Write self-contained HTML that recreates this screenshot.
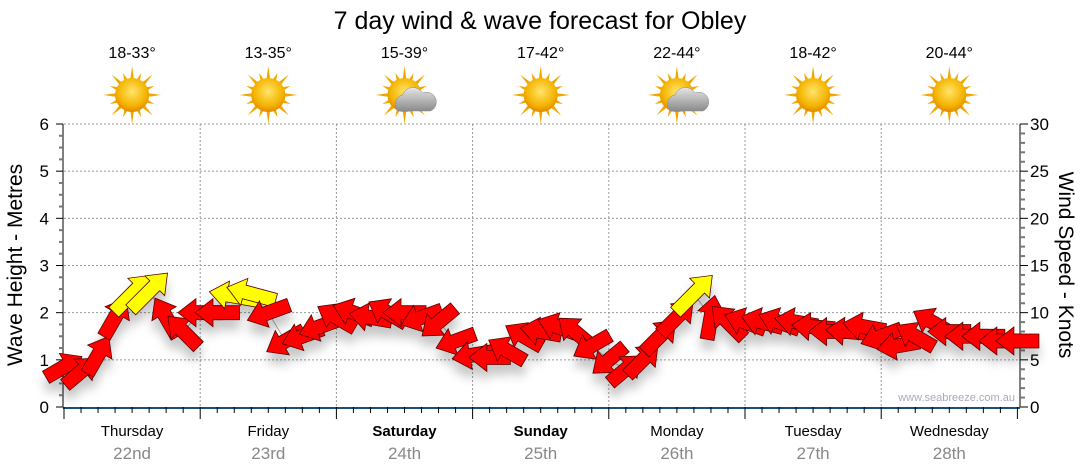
<!DOCTYPE html>
<html><head><meta charset="utf-8"><style>
body{margin:0;background:#fff;font-family:"Liberation Sans",sans-serif}
svg{display:block}
</style></head><body>
<svg id="c" width="1080" height="475">
<defs>
<filter id="sh" x="-50%" y="-50%" width="200%" height="200%"><feDropShadow dx="0" dy="10" stdDeviation="5" flood-color="#000" flood-opacity="0.22"/></filter>
<radialGradient id="sun" cx="50%" cy="40%" r="60%"><stop offset="0" stop-color="#ffe46a"/><stop offset="0.7" stop-color="#f5b400"/><stop offset="1" stop-color="#e08a00"/></radialGradient>
<linearGradient id="cloud" x1="0" y1="0" x2="0" y2="1"><stop offset="0" stop-color="#e6e6e6"/><stop offset="1" stop-color="#8a8a8a"/></linearGradient>
</defs>
<text x="540" y="29" text-anchor="middle" font-size="25">7 day wind &amp; wave forecast for Obley</text>
<g id="g"></g>
</svg>
<script>
const days=["Thursday","Friday","Saturday","Sunday","Monday","Tuesday","Wednesday"];
const dates=["22nd","23rd","24th","25th","26th","27th","28th"];
const temps=["18-33°","13-35°","15-39°","17-42°","22-44°","18-42°","20-44°"];
const cloudy=[false,false,true,false,true,false,false];
const waveTicks=[0,1,2,3,4,5,6];
const windTicks=[0,5,10,15,20,25,30];
const waveHeight=[0.85,0.75,1.1,1.9,2.4,2.45,1.9,1.6,
2.0,2.0,2.35,2.4,2.0,1.4,1.5,1.7,
1.9,2.0,1.9,2.0,2.0,1.9,1.8,1.4,
1.1,1.05,1.2,1.5,1.6,1.7,1.6,1.3,
1.0,0.8,1.0,1.5,1.9,2.4,1.9,1.8,
1.8,1.8,1.8,1.8,1.7,1.6,1.6,1.7,
1.5,1.3,1.5,1.8,1.6,1.5,1.5,1.4,1.4];
const windDir=[30,40,60,60,45,45,120,135,
180,180,170,165,200,210,200,200,
150,160,170,150,180,200,220,200,
190,180,150,150,170,160,140,210,
220,40,45,45,45,45,80,135,
160,165,160,170,175,180,175,170,
200,190,150,150,180,180,180,180,180];
const windSpeed=[9,9,10,11,16,16,11,10,
11,11,15,15,11,10,10,10,
10,10,10,10,10,10,10,9,
9,9,9,9,9,9,9,9,
9,9,10,11,12,16,11,11,
10,10,10,10,10,10,10,10,
10,10,10,10,10,10,10,10,10];
const NS="http://www.w3.org/2000/svg";
const g=document.getElementById('g');
function el(t,a,p){const e=document.createElementNS(NS,t);for(const k in a)e.setAttribute(k,a[k]);(p||g).appendChild(e);return e;}
const X0=64,DW=136.2,Y0=407,YT=124,XR=1020;
const xs=i=>X0+i*DW/8;
const yw=v=>Y0-(Y0-YT)*v/6;
const yk=v=>Y0-(Y0-YT)*v/30;
waveTicks.slice(1).forEach(v=>{const l=el('line',{x1:X0,x2:XR,y1:yw(v),y2:yw(v),stroke:'#999','stroke-dasharray':'2,2','stroke-width':1});

});
for(let d=1;d<7;d++){const l=el('line',{x1:X0+d*DW,x2:X0+d*DW,y1:YT,y2:Y0,stroke:'#999','stroke-dasharray':'2,2'});

}
el('line',{x1:X0-1,x2:X0-1,y1:YT,y2:Y0,stroke:'#000'});
for(let v=0;v<=24;v++){const y=Y0-(Y0-YT)*v/24;el('line',{x1:X0-(v%4?5:8),x2:X0-1,y1:y,y2:y,stroke:v%4?'#777':'#000','stroke-width':v%4?2:1});}
waveTicks.forEach(v=>{const t=el('text',{x:49,y:yw(v)+6,'text-anchor':'end','font-size':17});t.textContent=v;

});
el('line',{x1:XR,x2:XR,y1:YT,y2:Y0,stroke:'#000'});
for(let v=0;v<=30;v++){const y=yk(v);el('line',{x1:XR,x2:XR+(v%5?5:8),y1:y,y2:y,stroke:v%5?'#777':'#000','stroke-width':v%5?2:1});}
windTicks.forEach(v=>{const t=el('text',{x:1030,y:yk(v)+6,'font-size':17});t.textContent=v;

});
el('line',{x1:X0-1,x2:XR,y1:Y0+1,y2:Y0+1,stroke:'#1a4f7a','stroke-width':2});
for(let i=0;i<=56;i++){const x=xs(i);el('line',{x1:x,x2:x,y1:Y0,y2:Y0+(i%8?6:12),stroke:'#000'});}
days.forEach((d,i)=>{const cx=X0+(i+0.5)*DW;
const a=el('text',{x:cx,y:436,'text-anchor':'middle','font-size':15,'font-weight':(i==2||i==3)?'bold':'normal'});a.textContent=d;


const b=el('text',{x:cx,y:459,'text-anchor':'middle','font-size':17,fill:'#888'});b.textContent=dates[i];


const t=el('text',{x:cx,y:58,'text-anchor':'middle','font-size':16});t.textContent=temps[i];


const ic=el('g',{transform:`translate(${cx},95)`});


for(let r=0;r<16;r++){const an=r*Math.PI/8;const L=r%2?24:29;
el('polygon',{points:`${Math.cos(an)*L},${Math.sin(an)*L} ${Math.cos(an+0.13)*15},${Math.sin(an+0.13)*15} ${Math.cos(an-0.13)*15},${Math.sin(an-0.13)*15}`,fill:'#f0a800'},ic);}
el('circle',{r:17,fill:'url(#sun)'},ic);
if(cloudy[i]){el('path',{d:'M-6,16 a9,9 0 0 1 4,-16 a11,11 0 0 1 20,-2 a9,9 0 0 1 8,18 z',fill:'url(#cloud)',stroke:'#888','stroke-width':0.5},ic);}
});
const lt=el('text',{transform:'translate(22,265) rotate(-90)','text-anchor':'middle','font-size':21});lt.textContent='Wave Height - Metres';


const rt=el('text',{transform:'translate(1059,265) rotate(90)','text-anchor':'middle','font-size':21});rt.textContent='Wind Speed - Knots';


const wm=el('text',{x:1015,y:401,'text-anchor':'end','font-size':11,fill:'#aab'});wm.textContent='www.seabreeze.com.au';


el('polyline',{points:waveHeight.map((v,i)=>xs(i)+','+yw(v)).join(' '),fill:'none',stroke:'#aaa','stroke-width':1});
const ag=el('g',{filter:'url(#sh)'});
waveHeight.forEach((v,i)=>{
 const L=28+windSpeed[i]*1.5,h=L/2,hw=14,sw=7,hl=18;
 const p=el('polygon',{points:`${-h},${-sw} ${h-hl},${-sw} ${h-hl},${-hw} ${h},0 ${h-hl},${hw} ${h-hl},${sw} ${-h},${sw}`,
 fill:windSpeed[i]>=15?'#ffff00':'#ff0000',stroke:'#5a0000','stroke-width':0.8,
 transform:`translate(${xs(i)},${yw(v)}) rotate(${-windDir[i]})`},ag);
 
 
});
</script>
</body></html>
